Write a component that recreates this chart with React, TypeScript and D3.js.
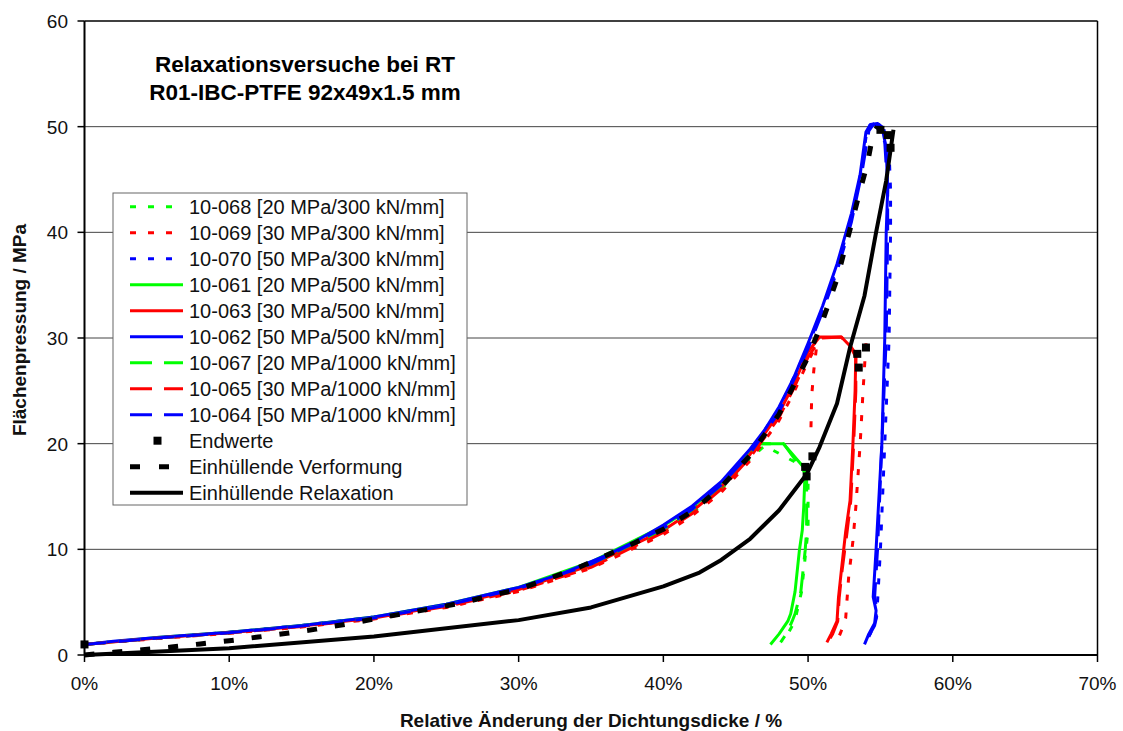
import React from "react";
import * as d3 from "d3";

type P = [number, number] | null;

const xTicks = [0, 10, 20, 30, 40, 50, 60, 70];
const yTicks = [0, 10, 20, 30, 40, 50, 60];
const gridValues = [10, 20, 30, 40, 50];

// 10-068 [20 MPa/300 kN/mm] green dotted
const s068: P[] = [[0,1.0],[5,1.6],[10,2.1],[15,2.7],[20,3.45],[25,4.6],[30,6.1],[35,8.4],[40,11.6],[42,13.4],[44,15.7],[46,18.6],[47.0,19.8],[50.0,17.6],[50.0,14],[50.0,11.8],[49.85,9.9],[49.55,6],[49.2,3.9],[49.0,3.0],[48.6,2.0],[48.2,1.3]];
// 10-069 [30 MPa/300 kN/mm] red dotted
const s069: P[] = [[0,1.0],[5,1.55],[10,2.05],[15,2.65],[20,3.4],[25,4.5],[30,6.0],[35,8.2],[40,11.4],[42,13.2],[44,15.4],[46,18.4],[48,22.2],[49,24.8],[50,27.8],[50.6,29.3],[50.4,27.0],[50.25,24.5],[50.2,21.5],null,[54.0,29.5],[53.8,25],[53.6,20],[53.3,14],[53.1,10.8],[52.8,7.3],[52.6,3.5],[52.3,2.3],[52.1,1.6]];
// 10-070 [50 MPa/300 kN/mm] blue dotted
const s070: P[] = [[0,1.0],[5,1.6],[10,2.15],[15,2.8],[20,3.6],[25,4.75],[30,6.35],[35,8.7],[40,12.1],[42,13.9],[44,16.2],[46,19.3],[48,23.3],[50,29.2],[51,32.8],[52,36.7],[53,41.4],[53.7,46.0],[54.1,50.0],[54.6,50.3],[55.2,50.0],[55.6,47.5],[55.7,44],[55.7,40],[55.6,30],[55.3,20],[55.0,10],[54.8,5],[54.7,3.5],[54.3,2.0],[54.0,1.2]];
// 10-061 [20 MPa/500 kN/mm] green solid
const s061: P[] = [[0,1.0],[5,1.65],[10,2.15],[15,2.8],[20,3.6],[25,4.8],[30,6.4],[35,8.8],[40,12.2],[42,14.0],[44,16.3],[45,17.8],[46,19.4],[46.5,20.0],[48.3,20.0],[49.8,17.6],[49.7,14],[49.6,11.8],[49.4,9.9],[49.1,6],[48.8,3.9],[48.6,3.2],[48.0,2.0],[47.4,1.0]];
// 10-063 [30 MPa/500 kN/mm] red solid
const s063: P[] = [[0,1.0],[5,1.6],[10,2.1],[15,2.75],[20,3.5],[25,4.7],[30,6.2],[35,8.5],[40,11.8],[42,13.6],[44,15.9],[46,19.0],[48,22.9],[49,25.6],[50,28.7],[50.8,30.1],[52.3,30.1],[53.0,29.1],[53.3,28.5],[53.25,25],[53.1,20],[52.9,14.6],[52.6,11.7],[52.3,8],[52.1,5.4],[52.0,3.2],[51.6,2.0],[51.3,1.2]];
// 10-062 [50 MPa/500 kN/mm] blue solid
const s062: P[] = [[0,1.0],[2,1.3],[5,1.65],[10,2.15],[15,2.8],[20,3.6],[25,4.8],[30,6.4],[33,7.7],[36,9.4],[38,10.7],[40,12.3],[42,14.1],[44,16.4],[46,19.5],[47,21.3],[48,23.5],[49,26.2],[50,29.5],[51,33.0],[52,37.0],[53,41.8],[53.6,45.5],[54.0,49.5],[54.3,50.2],[54.8,50.3],[55.1,50.0],[55.4,48.0],[55.5,44.0],[55.4,40.0],[55.3,30.0],[55.1,20.0],[54.7,10.0],[54.5,5.5],[54.7,4.2],[54.6,3.0],[54.2,2.0],[53.9,1.0]];
// 10-067 [20 MPa/1000 kN/mm] green dashed
const s067: P[] = [[0,1.0],[5,1.6],[10,2.1],[15,2.75],[20,3.5],[25,4.7],[30,6.2],[35,8.5],[40,11.8],[42,13.7],[44,16.0],[45,17.4],[46,19.0],[46.7,20.0],[48.3,20.0],[49.9,17.0],[49.9,14],[49.9,11.8],[49.8,9.9],[49.5,6],[49.1,3.9],[48.9,3.2],[48.5,2.0],[48.1,1.2]];
// 10-065 [30 MPa/1000 kN/mm] red dashed
const s065: P[] = [[0,1.0],[5,1.6],[10,2.1],[15,2.7],[20,3.45],[25,4.6],[30,6.1],[35,8.3],[40,11.6],[42,13.4],[44,15.7],[46,18.7],[48,22.5],[49,25.2],[50,28.2],[50.9,30.0],[52.3,30.1],[53.0,29.0],[53.3,28.2],[53.3,25],[53.15,20],[52.95,14.6],[52.7,11.7],[52.35,8],[52.15,5.4],[52.05,3.2],[51.7,2.0],[51.4,1.3]];
// 10-064 [50 MPa/1000 kN/mm] blue dashed
const s064: P[] = [[0,1.0],[5,1.6],[10,2.1],[15,2.75],[20,3.5],[25,4.7],[30,6.3],[35,8.6],[40,12.0],[42,13.8],[44,16.1],[46,19.1],[48,23.0],[50,29.0],[51,32.5],[52,36.3],[53,41.0],[53.7,45.5],[54.2,49.6],[54.5,50.2],[54.9,50.2],[55.3,48.5],[55.5,44],[55.5,40],[55.4,30],[55.1,20],[54.8,10],[54.6,5.5],[54.8,4.0],[54.6,2.8],[54.2,1.8],[54.0,1.0]];
// Endwerte
const endwerte: [number, number][] = [[0,1.0],[49.8,17.8],[49.9,16.9],[50.3,18.8],[53.4,28.5],[53.5,27.2],[54.0,29.1],[55.0,49.7],[55.5,49.2],[55.7,48.0]];
// Einhüllende Verformung
const verformung: P[] = [[0,0],[2,0.25],[4,0.5],[6,0.75],[8,1.05],[10,1.35],[12,1.7],[14,2.05],[16,2.45],[18,2.9],[20,3.4],[22,3.9],[24,4.4],[26,4.9],[28,5.6],[30,6.2],[34,8.2],[38,10.6],[40,11.9],[42,13.6],[44,15.9],[46,18.9],[48,22.8],[50,28.2],[51,31.6],[52,35.6],[53,40.8],[53.6,44.0],[54.1,46.5],[54.5,49.4],[54.8,50.0]];
// Einhüllende Relaxation
const relaxation: P[] = [[0,0],[10,0.65],[20,1.75],[30,3.3],[35,4.5],[40,6.5],[42.5,7.8],[44,9.0],[46,11.0],[48,13.7],[49.9,17.1],[50.8,19.7],[52.0,23.8],[52.9,29.1],[53.9,34.0],[54.7,40.0],[55.4,44.9],[55.9,49.7]];

const DOT = "6,12";
const DASH = "22,12";

const series = [
  { name: "10-068 [20 MPa/300 kN/mm]", data: s068, color: "#00ff00", dash: DOT, w: 3 },
  { name: "10-069 [30 MPa/300 kN/mm]", data: s069, color: "#ff0000", dash: DOT, w: 3 },
  { name: "10-070 [50 MPa/300 kN/mm]", data: s070, color: "#0000ff", dash: DOT, w: 3 },
  { name: "10-061 [20 MPa/500 kN/mm]", data: s061, color: "#00ff00", dash: "", w: 3 },
  { name: "10-063 [30 MPa/500 kN/mm]", data: s063, color: "#ff0000", dash: "", w: 3 },
  { name: "10-062 [50 MPa/500 kN/mm]", data: s062, color: "#0000ff", dash: "", w: 3 },
  { name: "10-067 [20 MPa/1000 kN/mm]", data: s067, color: "#00ff00", dash: DASH, w: 3 },
  { name: "10-065 [30 MPa/1000 kN/mm]", data: s065, color: "#ff0000", dash: DASH, w: 3 },
  { name: "10-064 [50 MPa/1000 kN/mm]", data: s064, color: "#0000ff", dash: DASH, w: 3 },
];

const FONT = "'Liberation Sans', Arial, sans-serif";

export default function App() {
  const W = 1123, H = 731;
  const x = d3.scaleLinear().domain([0, 70]).range([84.5, 1097.5]);
  const y = d3.scaleLinear().domain([0, 60]).range([655, 21]);
  const line = d3
    .line<P>()
    .defined((d) => d !== null)
    .x((d) => x((d as [number, number])[0]))
    .y((d) => y((d as [number, number])[1]));

  const legendX = 113, legendY = 193, legendW = 354, legendH = 312;
  const rowY = (i: number) => 206.7 + 26.0 * i;

  return (
    <svg width={W} height={H} style={{ position: "absolute", left: 0, top: 0, background: "#fff" }} fontFamily={FONT}>
      <rect x={0} y={0} width={W} height={H} fill="#fff" />
      {/* grid */}
      {gridValues.map((v) => (
        <line key={"g" + v} x1={x(0)} x2={x(70)} y1={y(v)} y2={y(v)} stroke="#444" strokeWidth={1} />
      ))}
      {/* frame */}
      <line x1={x(0)} x2={x(70)} y1={y(60)} y2={y(60)} stroke="#000" strokeWidth={1.5} />
      <line x1={x(70)} x2={x(70)} y1={y(60)} y2={y(0)} stroke="#000" strokeWidth={1.5} />
      <line x1={x(0)} x2={x(0)} y1={y(60)} y2={y(0)} stroke="#000" strokeWidth={2} />
      <line x1={x(0)} x2={x(70)} y1={y(0)} y2={y(0)} stroke="#000" strokeWidth={2} />
      {/* y ticks */}
      {yTicks.map((v) => (
        <g key={"yt" + v}>
          <line x1={x(0) - 7} x2={x(0)} y1={y(v)} y2={y(v)} stroke="#000" strokeWidth={1.5} />
          <text x={68} y={y(v) + 7} textAnchor="end" fontSize={19} fill="#111">{v}</text>
        </g>
      ))}
      {/* x ticks */}
      {xTicks.map((v) => (
        <g key={"xt" + v}>
          <line x1={x(v)} x2={x(v)} y1={y(0)} y2={y(0) + 7} stroke="#000" strokeWidth={1.5} />
          <text x={x(v)} y={690} textAnchor="middle" fontSize={19} fill="#111">{v + "%"}</text>
        </g>
      ))}
      {/* series */}
      {series.map((s) => (
        <path key={s.name} d={line(s.data) || ""} fill="none" stroke={s.color} strokeWidth={s.w}
          strokeDasharray={s.dash || undefined} strokeLinejoin="round" />
      ))}
      {endwerte.map((d, i) => (
        <rect key={"e" + i} x={x(d[0]) - 4} y={y(d[1]) - 4} width={8} height={8} fill="#000" />
      ))}
      <path d={line(verformung) || ""} fill="none" stroke="#000" strokeWidth={5} strokeDasharray="10,18" />
      <path d={line(relaxation) || ""} fill="none" stroke="#000" strokeWidth={4} strokeLinejoin="round" />
      {/* title */}
      <text x={305} y={72} textAnchor="middle" fontSize={22.5} fontWeight="bold" fill="#000">Relaxationsversuche bei RT</text>
      <text x={305} y={100} textAnchor="middle" fontSize={22.5} fontWeight="bold" fill="#000">R01-IBC-PTFE 92x49x1.5 mm</text>
      {/* legend */}
      <rect x={legendX} y={legendY} width={legendW} height={legendH} fill="#fff" stroke="#666" strokeWidth={1} />
      {series.map((s, i) => (
        <g key={"l" + i}>
          <line x1={130} x2={183} y1={rowY(i)} y2={rowY(i)} stroke={s.color} strokeWidth={3}
            strokeDasharray={s.dash || undefined} />
          <text x={189} y={rowY(i) + 7} fontSize={20} fill="#111">{s.name}</text>
        </g>
      ))}
      <rect x={157.5 - 4} y={rowY(9) - 4} width={8} height={8} fill="#000" />
      <text x={189} y={rowY(9) + 7} fontSize={20} fill="#111">Endwerte</text>
      <line x1={130} x2={183} y1={rowY(10)} y2={rowY(10)} stroke="#000" strokeWidth={5} strokeDasharray="10,19" />
      <text x={189} y={rowY(10) + 7} fontSize={20} fill="#111">Einhüllende Verformung</text>
      <line x1={130} x2={183} y1={rowY(11)} y2={rowY(11)} stroke="#000" strokeWidth={4} />
      <text x={189} y={rowY(11) + 7} fontSize={20} fill="#111">Einhüllende Relaxation</text>
      {/* axis titles */}
      <text x={(x(0) + x(70)) / 2} y={727} textAnchor="middle" fontSize={19} fontWeight="bold" fill="#111">Relative Änderung der Dichtungsdicke / %</text>
      <text transform={`translate(26, 330) rotate(-90)`} textAnchor="middle" fontSize={19} fontWeight="bold" fill="#111">Flächenpressung / MPa</text>
    </svg>
  );
}
